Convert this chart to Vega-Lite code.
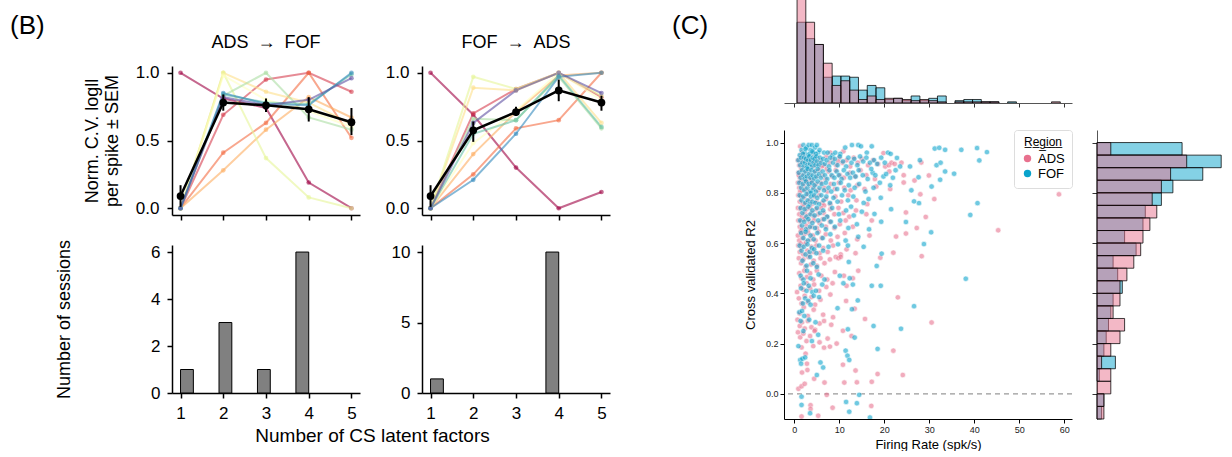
{
"$schema":"https://vega.github.io/schema/vega-lite/v6.json",
"autosize":{"type":"pad"},
"padding":{"left":10,"top":0,"right":0,"bottom":0},
"bounds":"flush",
"spacing":612,
"resolve":{"scale":{"color":"independent"},"legend":{"color":"independent"}},
"config":{
 "font":"Liberation Sans",
 "view":{"stroke":null},
 "axis":{"grid":false,"domainColor":"#000","tickColor":"#000","labelColor":"#000","titleColor":"#000","titleFontWeight":"normal","labelFont":"Liberation Sans","titleFont":"Liberation Sans"},
 "title":{"fontWeight":"normal","font":"Liberation Sans","color":"#000"},
 "legend":{"labelFont":"Liberation Sans","titleFont":"Liberation Sans"}
},
"datasets":{
 "linesAF":[
  {"s":"s1","k":1,"v":1.0},{"s":"s1","k":2,"v":0.81},{"s":"s1","k":3,"v":0.74},{"s":"s1","k":4,"v":0.19},{"s":"s1","k":5,"v":0.0},
  {"s":"s2","k":1,"v":0},{"s":"s2","k":2,"v":0.69},{"s":"s2","k":3,"v":0.95},{"s":"s2","k":4,"v":1.0},{"s":"s2","k":5,"v":0.86},
  {"s":"s3","k":1,"v":0},{"s":"s3","k":2,"v":0.41},{"s":"s3","k":3,"v":0.63},{"s":"s3","k":4,"v":1.0},{"s":"s3","k":5,"v":0.52},
  {"s":"s4","k":1,"v":0},{"s":"s4","k":2,"v":0.28},{"s":"s4","k":3,"v":0.58},{"s":"s4","k":4,"v":0.82},{"s":"s4","k":5,"v":0.67},
  {"s":"s5","k":1,"v":0},{"s":"s5","k":2,"v":1.0},{"s":"s5","k":3,"v":0.86},{"s":"s5","k":4,"v":0.78},{"s":"s5","k":5,"v":0.62},
  {"s":"s6","k":1,"v":0},{"s":"s6","k":2,"v":1.0},{"s":"s6","k":3,"v":0.37},{"s":"s6","k":4,"v":0.08},{"s":"s6","k":5,"v":0.0},
  {"s":"s7","k":1,"v":0},{"s":"s7","k":2,"v":0.98},{"s":"s7","k":3,"v":0.80},{"s":"s7","k":4,"v":0.72},{"s":"s7","k":5,"v":0.60},
  {"s":"s8","k":1,"v":0},{"s":"s8","k":2,"v":0.83},{"s":"s8","k":3,"v":1.0},{"s":"s8","k":4,"v":0.67},{"s":"s8","k":5,"v":0.58},
  {"s":"s9","k":1,"v":0},{"s":"s9","k":2,"v":0.84},{"s":"s9","k":3,"v":0.78},{"s":"s9","k":4,"v":0.77},{"s":"s9","k":5,"v":0.99},
  {"s":"s10","k":1,"v":0},{"s":"s10","k":2,"v":0.85},{"s":"s10","k":3,"v":0.77},{"s":"s10","k":4,"v":0.76},{"s":"s10","k":5,"v":1.0},
  {"s":"s11","k":1,"v":0},{"s":"s11","k":2,"v":0.82},{"s":"s11","k":3,"v":0.76},{"s":"s11","k":4,"v":0.80},{"s":"s11","k":5,"v":0.96}
 ],
 "linesFA":[
  {"s":"s1","k":1,"v":1.0},{"s":"s1","k":2,"v":0.69},{"s":"s1","k":3,"v":0.30},{"s":"s1","k":4,"v":0.0},{"s":"s1","k":5,"v":0.12},
  {"s":"s2","k":1,"v":0},{"s":"s2","k":2,"v":0.70},{"s":"s2","k":3,"v":0.88},{"s":"s2","k":4,"v":1.0},{"s":"s2","k":5,"v":0.82},
  {"s":"s3","k":1,"v":0},{"s":"s3","k":2,"v":0.25},{"s":"s3","k":3,"v":0.59},{"s":"s3","k":4,"v":0.65},{"s":"s3","k":5,"v":1.0},
  {"s":"s4","k":1,"v":0},{"s":"s4","k":2,"v":0.40},{"s":"s4","k":3,"v":0.71},{"s":"s4","k":4,"v":0.98},{"s":"s4","k":5,"v":1.0},
  {"s":"s5","k":1,"v":0},{"s":"s5","k":2,"v":0.89},{"s":"s5","k":3,"v":0.87},{"s":"s5","k":4,"v":1.0},{"s":"s5","k":5,"v":0.63},
  {"s":"s6","k":1,"v":0},{"s":"s6","k":2,"v":0.97},{"s":"s6","k":3,"v":0.88},{"s":"s6","k":4,"v":1.0},{"s":"s6","k":5,"v":0.83},
  {"s":"s7","k":1,"v":0},{"s":"s7","k":2,"v":0.48},{"s":"s7","k":3,"v":0.72},{"s":"s7","k":4,"v":1.0},{"s":"s7","k":5,"v":0.80},
  {"s":"s8","k":1,"v":0},{"s":"s8","k":2,"v":0.66},{"s":"s8","k":3,"v":0.65},{"s":"s8","k":4,"v":0.97},{"s":"s8","k":5,"v":0.59},
  {"s":"s9","k":1,"v":0},{"s":"s9","k":2,"v":0.55},{"s":"s9","k":3,"v":0.65},{"s":"s9","k":4,"v":0.98},{"s":"s9","k":5,"v":0.60},
  {"s":"s10","k":1,"v":0},{"s":"s10","k":2,"v":0.21},{"s":"s10","k":3,"v":0.55},{"s":"s10","k":4,"v":0.97},{"s":"s10","k":5,"v":1.0},
  {"s":"s11","k":1,"v":0},{"s":"s11","k":2,"v":0.63},{"s":"s11","k":3,"v":0.87},{"s":"s11","k":4,"v":1.0},{"s":"s11","k":5,"v":0.85}
 ],
 "meanAF":[
  {"k":1,"m":0.09,"lo":0.01,"hi":0.17},{"k":2,"m":0.78,"lo":0.72,"hi":0.84},{"k":3,"m":0.76,"lo":0.71,"hi":0.81},{"k":4,"m":0.73,"lo":0.64,"hi":0.82},{"k":5,"m":0.635,"lo":0.54,"hi":0.74}
 ],
 "meanFA":[
  {"k":1,"m":0.09,"lo":0.01,"hi":0.17},{"k":2,"m":0.575,"lo":0.49,"hi":0.64},{"k":3,"m":0.71,"lo":0.68,"hi":0.75},{"k":4,"m":0.87,"lo":0.79,"hi":0.95},{"k":5,"m":0.78,"lo":0.72,"hi":0.83}
 ],
 "countAF":[
  {"lo":1.0,"hi":1.3,"n":1},{"lo":1.9,"hi":2.2,"n":3},{"lo":2.8,"hi":3.1,"n":1},{"lo":3.7,"hi":4.0,"n":6}
 ],
 "countFA":[
  {"lo":1.0,"hi":1.3,"n":1},{"lo":3.7,"hi":4.0,"n":10}
 ],
 "topHist":[
  {"g":"ADS","lo":0.6,"hi":2.55,"n":95},{"g":"ADS","lo":2.55,"hi":4.5,"n":69},{"g":"ADS","lo":4.5,"hi":6.45,"n":50},{"g":"ADS","lo":6.45,"hi":8.4,"n":34},{"g":"ADS","lo":8.4,"hi":10.35,"n":15},{"g":"ADS","lo":10.35,"hi":12.3,"n":19},{"g":"ADS","lo":12.3,"hi":14.25,"n":11},{"g":"ADS","lo":14.25,"hi":16.2,"n":3},{"g":"ADS","lo":16.2,"hi":18.15,"n":6},{"g":"ADS","lo":18.15,"hi":20.1,"n":3},{"g":"ADS","lo":20.1,"hi":22.05,"n":4},{"g":"ADS","lo":22.05,"hi":24.0,"n":4},{"g":"ADS","lo":24.0,"hi":25.95,"n":3},{"g":"ADS","lo":25.95,"hi":27.9,"n":2},{"g":"ADS","lo":27.9,"hi":29.85,"n":3},{"g":"ADS","lo":29.85,"hi":31.8,"n":2},{"g":"ADS","lo":31.8,"hi":33.75,"n":1},{"g":"ADS","lo":35.7,"hi":37.65,"n":1},{"g":"ADS","lo":37.65,"hi":39.6,"n":1},{"g":"ADS","lo":39.6,"hi":41.55,"n":1},{"g":"ADS","lo":41.55,"hi":43.5,"n":1},{"g":"ADS","lo":43.5,"hi":45.45,"n":1},{"g":"ADS","lo":57.15,"hi":59.1,"n":1},
  {"g":"FOF","lo":0.6,"hi":2.55,"n":69},{"g":"FOF","lo":2.55,"hi":4.5,"n":55},{"g":"FOF","lo":4.5,"hi":6.45,"n":50},{"g":"FOF","lo":6.45,"hi":8.4,"n":22},{"g":"FOF","lo":8.4,"hi":10.35,"n":23},{"g":"FOF","lo":10.35,"hi":12.3,"n":23},{"g":"FOF","lo":12.3,"hi":14.25,"n":22},{"g":"FOF","lo":14.25,"hi":16.2,"n":11},{"g":"FOF","lo":16.2,"hi":18.15,"n":15},{"g":"FOF","lo":18.15,"hi":20.1,"n":13},{"g":"FOF","lo":20.1,"hi":22.05,"n":3},{"g":"FOF","lo":22.05,"hi":24.0,"n":4},{"g":"FOF","lo":24.0,"hi":25.95,"n":2},{"g":"FOF","lo":25.95,"hi":27.9,"n":6},{"g":"FOF","lo":27.9,"hi":29.85,"n":2},{"g":"FOF","lo":29.85,"hi":31.8,"n":4},{"g":"FOF","lo":31.8,"hi":33.75,"n":6},{"g":"FOF","lo":35.7,"hi":37.65,"n":2},{"g":"FOF","lo":37.65,"hi":39.6,"n":3},{"g":"FOF","lo":39.6,"hi":41.55,"n":3},{"g":"FOF","lo":41.55,"hi":43.5,"n":1},{"g":"FOF","lo":43.5,"hi":45.45,"n":1},{"g":"FOF","lo":47.4,"hi":49.35,"n":1}
 ],
 "rightHist":[
  {"g":"ADS","lo":0.95,"hi":1.0,"n":6},{"g":"ADS","lo":0.9,"hi":0.95,"n":39},{"g":"ADS","lo":0.85,"hi":0.9,"n":32},{"g":"ADS","lo":0.8,"hi":0.85,"n":28},{"g":"ADS","lo":0.75,"hi":0.8,"n":24},{"g":"ADS","lo":0.7,"hi":0.75,"n":26},{"g":"ADS","lo":0.65,"hi":0.7,"n":23},{"g":"ADS","lo":0.6,"hi":0.65,"n":20},{"g":"ADS","lo":0.55,"hi":0.6,"n":19},{"g":"ADS","lo":0.5,"hi":0.55,"n":16},{"g":"ADS","lo":0.45,"hi":0.5,"n":13},{"g":"ADS","lo":0.4,"hi":0.45,"n":10},{"g":"ADS","lo":0.35,"hi":0.4,"n":10},{"g":"ADS","lo":0.3,"hi":0.35,"n":7},{"g":"ADS","lo":0.25,"hi":0.3,"n":12},{"g":"ADS","lo":0.2,"hi":0.25,"n":10},{"g":"ADS","lo":0.15,"hi":0.2,"n":6},{"g":"ADS","lo":0.1,"hi":0.15,"n":2},{"g":"ADS","lo":0.05,"hi":0.1,"n":6},{"g":"ADS","lo":0.0,"hi":0.05,"n":6},{"g":"ADS","lo":-0.05,"hi":0.0,"n":3},{"g":"ADS","lo":-0.1,"hi":-0.05,"n":3},
  {"g":"FOF","lo":0.95,"hi":1.0,"n":37},{"g":"FOF","lo":0.9,"hi":0.95,"n":54},{"g":"FOF","lo":0.85,"hi":0.9,"n":46},{"g":"FOF","lo":0.8,"hi":0.85,"n":33},{"g":"FOF","lo":0.75,"hi":0.8,"n":28},{"g":"FOF","lo":0.7,"hi":0.75,"n":21},{"g":"FOF","lo":0.65,"hi":0.7,"n":20},{"g":"FOF","lo":0.6,"hi":0.65,"n":12},{"g":"FOF","lo":0.55,"hi":0.6,"n":17},{"g":"FOF","lo":0.5,"hi":0.55,"n":7},{"g":"FOF","lo":0.45,"hi":0.5,"n":9},{"g":"FOF","lo":0.4,"hi":0.45,"n":11},{"g":"FOF","lo":0.35,"hi":0.4,"n":7},{"g":"FOF","lo":0.3,"hi":0.35,"n":6},{"g":"FOF","lo":0.25,"hi":0.3,"n":5},{"g":"FOF","lo":0.2,"hi":0.25,"n":4},{"g":"FOF","lo":0.15,"hi":0.2,"n":3},{"g":"FOF","lo":0.1,"hi":0.15,"n":8},{"g":"FOF","lo":0.05,"hi":0.1,"n":1},{"g":"FOF","lo":-0.05,"hi":0.0,"n":3},{"g":"FOF","lo":-0.1,"hi":-0.05,"n":2}
 ],
 "scatter":[
  {"g":"ADS","fr":1.3,"r2":0.985},{"g":"ADS","fr":1.7,"r2":0.96},{"g":"ADS","fr":4.2,"r2":0.955},{"g":"ADS","fr":8.0,"r2":0.96},{"g":"ADS","fr":19.8,"r2":0.958},{"g":"ADS","fr":10.9,"r2":0.965},
  {"g":"ADS","fr":0.8,"r2":0.93},{"g":"ADS","fr":1.1,"r2":0.91},{"g":"ADS","fr":1.4,"r2":0.945},{"g":"ADS","fr":1.6,"r2":0.92},{"g":"ADS","fr":1.9,"r2":0.935},{"g":"ADS","fr":2.3,"r2":0.905},{"g":"ADS","fr":2.6,"r2":0.925},{"g":"ADS","fr":3.0,"r2":0.94},{"g":"ADS","fr":3.4,"r2":0.915},{"g":"ADS","fr":3.8,"r2":0.93},{"g":"ADS","fr":4.3,"r2":0.905},{"g":"ADS","fr":4.7,"r2":0.94},{"g":"ADS","fr":5.2,"r2":0.915},{"g":"ADS","fr":5.8,"r2":0.93},{"g":"ADS","fr":6.5,"r2":0.91},{"g":"ADS","fr":7.1,"r2":0.945},{"g":"ADS","fr":7.8,"r2":0.92},{"g":"ADS","fr":8.5,"r2":0.935},{"g":"ADS","fr":9.3,"r2":0.91},{"g":"ADS","fr":10.0,"r2":0.94},{"g":"ADS","fr":10.7,"r2":0.92},{"g":"ADS","fr":11.6,"r2":0.93},{"g":"ADS","fr":12.4,"r2":0.905},{"g":"ADS","fr":13.2,"r2":0.94},{"g":"ADS","fr":14.1,"r2":0.92},{"g":"ADS","fr":15.0,"r2":0.935},{"g":"ADS","fr":16.4,"r2":0.91},{"g":"ADS","fr":17.5,"r2":0.93},{"g":"ADS","fr":18.6,"r2":0.915},{"g":"ADS","fr":20.2,"r2":0.905},{"g":"ADS","fr":21.0,"r2":0.91},{"g":"ADS","fr":21.6,"r2":0.92},{"g":"ADS","fr":22.3,"r2":0.915},{"g":"ADS","fr":23.8,"r2":0.92},{"g":"ADS","fr":28.2,"r2":0.921},{"g":"ADS","fr":2.1,"r2":0.95},{"g":"ADS","fr":4.5,"r2":0.925},{"g":"ADS","fr":6.1,"r2":0.905},{"g":"ADS","fr":9.7,"r2":0.925},
  {"g":"ADS","fr":0.9,"r2":0.88},{"g":"ADS","fr":1.2,"r2":0.86},{"g":"ADS","fr":1.5,"r2":0.895},{"g":"ADS","fr":1.8,"r2":0.87},{"g":"ADS","fr":2.1,"r2":0.855},{"g":"ADS","fr":2.4,"r2":0.885},{"g":"ADS","fr":2.8,"r2":0.865},{"g":"ADS","fr":3.2,"r2":0.89},{"g":"ADS","fr":3.6,"r2":0.87},{"g":"ADS","fr":4.0,"r2":0.855},{"g":"ADS","fr":4.5,"r2":0.885},{"g":"ADS","fr":5.0,"r2":0.865},{"g":"ADS","fr":5.5,"r2":0.89},{"g":"ADS","fr":6.2,"r2":0.87},{"g":"ADS","fr":6.9,"r2":0.855},{"g":"ADS","fr":7.6,"r2":0.885},{"g":"ADS","fr":8.4,"r2":0.865},{"g":"ADS","fr":9.2,"r2":0.89},{"g":"ADS","fr":10.1,"r2":0.87},{"g":"ADS","fr":11.0,"r2":0.86},{"g":"ADS","fr":12.3,"r2":0.88},{"g":"ADS","fr":13.5,"r2":0.865},{"g":"ADS","fr":14.7,"r2":0.89},{"g":"ADS","fr":16.0,"r2":0.87},{"g":"ADS","fr":17.9,"r2":0.855},{"g":"ADS","fr":21.1,"r2":0.885},{"g":"ADS","fr":24.3,"r2":0.87},{"g":"ADS","fr":26.7,"r2":0.849},{"g":"ADS","fr":29.9,"r2":0.869},{"g":"ADS","fr":3.4,"r2":0.852},{"g":"ADS","fr":1.0,"r2":0.87},{"g":"ADS","fr":7.2,"r2":0.895},
  {"g":"ADS","fr":0.8,"r2":0.84},{"g":"ADS","fr":1.1,"r2":0.82},{"g":"ADS","fr":1.4,"r2":0.845},{"g":"ADS","fr":1.7,"r2":0.81},{"g":"ADS","fr":2.0,"r2":0.83},{"g":"ADS","fr":2.4,"r2":0.815},{"g":"ADS","fr":2.8,"r2":0.84},{"g":"ADS","fr":3.1,"r2":0.805},{"g":"ADS","fr":3.5,"r2":0.83},{"g":"ADS","fr":3.9,"r2":0.845},{"g":"ADS","fr":4.3,"r2":0.82},{"g":"ADS","fr":4.8,"r2":0.835},{"g":"ADS","fr":5.3,"r2":0.81},{"g":"ADS","fr":5.9,"r2":0.84},{"g":"ADS","fr":6.6,"r2":0.82},{"g":"ADS","fr":7.3,"r2":0.805},{"g":"ADS","fr":8.1,"r2":0.835},{"g":"ADS","fr":9.0,"r2":0.815},{"g":"ADS","fr":9.9,"r2":0.84},{"g":"ADS","fr":11.1,"r2":0.82},{"g":"ADS","fr":12.5,"r2":0.81},{"g":"ADS","fr":14.0,"r2":0.83},{"g":"ADS","fr":15.6,"r2":0.815},{"g":"ADS","fr":18.2,"r2":0.825},{"g":"ADS","fr":21.3,"r2":0.815},{"g":"ADS","fr":24.3,"r2":0.841},{"g":"ADS","fr":1.3,"r2":0.805},{"g":"ADS","fr":2.6,"r2":0.848},
  {"g":"ADS","fr":0.9,"r2":0.79},{"g":"ADS","fr":1.2,"r2":0.765},{"g":"ADS","fr":1.5,"r2":0.785},{"g":"ADS","fr":1.9,"r2":0.755},{"g":"ADS","fr":2.2,"r2":0.78},{"g":"ADS","fr":2.6,"r2":0.76},{"g":"ADS","fr":3.0,"r2":0.795},{"g":"ADS","fr":3.4,"r2":0.77},{"g":"ADS","fr":3.9,"r2":0.755},{"g":"ADS","fr":4.4,"r2":0.785},{"g":"ADS","fr":4.9,"r2":0.765},{"g":"ADS","fr":5.5,"r2":0.79},{"g":"ADS","fr":6.2,"r2":0.76},{"g":"ADS","fr":7.0,"r2":0.775},{"g":"ADS","fr":8.0,"r2":0.755},{"g":"ADS","fr":9.1,"r2":0.785},{"g":"ADS","fr":10.4,"r2":0.765},{"g":"ADS","fr":12.0,"r2":0.79},{"g":"ADS","fr":13.8,"r2":0.77},{"g":"ADS","fr":16.2,"r2":0.755},{"g":"ADS","fr":28.0,"r2":0.794},{"g":"ADS","fr":31.1,"r2":0.775},{"g":"ADS","fr":58.8,"r2":0.794},{"g":"ADS","fr":6.6,"r2":0.75},
  {"g":"ADS","fr":0.8,"r2":0.74},{"g":"ADS","fr":1.1,"r2":0.715},{"g":"ADS","fr":1.4,"r2":0.735},{"g":"ADS","fr":1.7,"r2":0.705},{"g":"ADS","fr":2.0,"r2":0.745},{"g":"ADS","fr":2.3,"r2":0.72},{"g":"ADS","fr":2.7,"r2":0.735},{"g":"ADS","fr":3.1,"r2":0.71},{"g":"ADS","fr":3.5,"r2":0.74},{"g":"ADS","fr":3.9,"r2":0.72},{"g":"ADS","fr":4.3,"r2":0.705},{"g":"ADS","fr":4.8,"r2":0.735},{"g":"ADS","fr":5.3,"r2":0.715},{"g":"ADS","fr":5.9,"r2":0.74},{"g":"ADS","fr":6.5,"r2":0.72},{"g":"ADS","fr":7.2,"r2":0.705},{"g":"ADS","fr":8.0,"r2":0.735},{"g":"ADS","fr":8.9,"r2":0.715},{"g":"ADS","fr":9.8,"r2":0.74},{"g":"ADS","fr":10.9,"r2":0.72},{"g":"ADS","fr":12.2,"r2":0.705},{"g":"ADS","fr":13.7,"r2":0.73},{"g":"ADS","fr":16.0,"r2":0.715},{"g":"ADS","fr":24.8,"r2":0.722},{"g":"ADS","fr":29.2,"r2":0.704},{"g":"ADS","fr":2.5,"r2":0.7},
  {"g":"ADS","fr":0.9,"r2":0.69},{"g":"ADS","fr":1.2,"r2":0.665},{"g":"ADS","fr":1.5,"r2":0.685},{"g":"ADS","fr":1.8,"r2":0.655},{"g":"ADS","fr":2.2,"r2":0.695},{"g":"ADS","fr":2.6,"r2":0.67},{"g":"ADS","fr":3.0,"r2":0.655},{"g":"ADS","fr":3.4,"r2":0.685},{"g":"ADS","fr":3.9,"r2":0.665},{"g":"ADS","fr":4.4,"r2":0.69},{"g":"ADS","fr":5.0,"r2":0.66},{"g":"ADS","fr":5.6,"r2":0.68},{"g":"ADS","fr":6.3,"r2":0.695},{"g":"ADS","fr":7.0,"r2":0.665},{"g":"ADS","fr":7.9,"r2":0.685},{"g":"ADS","fr":8.9,"r2":0.66},{"g":"ADS","fr":10.1,"r2":0.675},{"g":"ADS","fr":11.4,"r2":0.69},{"g":"ADS","fr":13.0,"r2":0.665},{"g":"ADS","fr":17.2,"r2":0.69},{"g":"ADS","fr":27.2,"r2":0.66},{"g":"ADS","fr":45.3,"r2":0.651},{"g":"ADS","fr":1.6,"r2":0.652},
  {"g":"ADS","fr":0.8,"r2":0.63},{"g":"ADS","fr":1.1,"r2":0.61},{"g":"ADS","fr":1.4,"r2":0.645},{"g":"ADS","fr":1.8,"r2":0.62},{"g":"ADS","fr":2.2,"r2":0.635},{"g":"ADS","fr":2.6,"r2":0.605},{"g":"ADS","fr":3.1,"r2":0.64},{"g":"ADS","fr":3.6,"r2":0.615},{"g":"ADS","fr":4.1,"r2":0.63},{"g":"ADS","fr":4.7,"r2":0.61},{"g":"ADS","fr":5.4,"r2":0.645},{"g":"ADS","fr":6.1,"r2":0.62},{"g":"ADS","fr":7.0,"r2":0.635},{"g":"ADS","fr":8.1,"r2":0.61},{"g":"ADS","fr":9.6,"r2":0.625},{"g":"ADS","fr":11.2,"r2":0.64},{"g":"ADS","fr":14.0,"r2":0.615},{"g":"ADS","fr":16.7,"r2":0.63},{"g":"ADS","fr":22.6,"r2":0.626},{"g":"ADS","fr":24.8,"r2":0.638},
  {"g":"ADS","fr":0.9,"r2":0.59},{"g":"ADS","fr":1.2,"r2":0.565},{"g":"ADS","fr":1.6,"r2":0.58},{"g":"ADS","fr":2.0,"r2":0.555},{"g":"ADS","fr":2.4,"r2":0.595},{"g":"ADS","fr":2.9,"r2":0.57},{"g":"ADS","fr":3.3,"r2":0.555},{"g":"ADS","fr":3.8,"r2":0.585},{"g":"ADS","fr":4.3,"r2":0.565},{"g":"ADS","fr":4.9,"r2":0.59},{"g":"ADS","fr":5.6,"r2":0.56},{"g":"ADS","fr":6.4,"r2":0.58},{"g":"ADS","fr":7.4,"r2":0.565},{"g":"ADS","fr":8.6,"r2":0.59},{"g":"ADS","fr":10.3,"r2":0.555},{"g":"ADS","fr":11.6,"r2":0.575},{"g":"ADS","fr":13.6,"r2":0.56},{"g":"ADS","fr":22.0,"r2":0.562},{"g":"ADS","fr":1.4,"r2":0.598},
  {"g":"ADS","fr":1.0,"r2":0.54},{"g":"ADS","fr":1.5,"r2":0.52},{"g":"ADS","fr":2.0,"r2":0.535},{"g":"ADS","fr":2.5,"r2":0.505},{"g":"ADS","fr":3.1,"r2":0.545},{"g":"ADS","fr":3.7,"r2":0.515},{"g":"ADS","fr":4.3,"r2":0.53},{"g":"ADS","fr":5.0,"r2":0.51},{"g":"ADS","fr":5.8,"r2":0.54},{"g":"ADS","fr":6.7,"r2":0.52},{"g":"ADS","fr":7.9,"r2":0.535},{"g":"ADS","fr":9.2,"r2":0.545},{"g":"ADS","fr":9.8,"r2":0.54},{"g":"ADS","fr":10.3,"r2":0.545},{"g":"ADS","fr":19.1,"r2":0.542},{"g":"ADS","fr":28.3,"r2":0.548},
  {"g":"ADS","fr":1.1,"r2":0.48},{"g":"ADS","fr":1.6,"r2":0.46},{"g":"ADS","fr":2.2,"r2":0.49},{"g":"ADS","fr":2.8,"r2":0.465},{"g":"ADS","fr":3.5,"r2":0.48},{"g":"ADS","fr":4.2,"r2":0.455},{"g":"ADS","fr":5.0,"r2":0.49},{"g":"ADS","fr":6.0,"r2":0.47},{"g":"ADS","fr":7.3,"r2":0.455},{"g":"ADS","fr":9.0,"r2":0.485},{"g":"ADS","fr":11.0,"r2":0.47},{"g":"ADS","fr":13.0,"r2":0.46},{"g":"ADS","fr":14.2,"r2":0.49},
  {"g":"ADS","fr":0.6,"r2":0.405},{"g":"ADS","fr":1.4,"r2":0.43},{"g":"ADS","fr":2.0,"r2":0.415},{"g":"ADS","fr":2.7,"r2":0.44},{"g":"ADS","fr":3.5,"r2":0.42},{"g":"ADS","fr":4.4,"r2":0.435},{"g":"ADS","fr":5.5,"r2":0.41},{"g":"ADS","fr":7.1,"r2":0.425},{"g":"ADS","fr":8.5,"r2":0.44},{"g":"ADS","fr":11.6,"r2":0.43},
  {"g":"ADS","fr":1.0,"r2":0.38},{"g":"ADS","fr":1.6,"r2":0.36},{"g":"ADS","fr":2.3,"r2":0.39},{"g":"ADS","fr":3.0,"r2":0.365},{"g":"ADS","fr":3.8,"r2":0.385},{"g":"ADS","fr":4.6,"r2":0.355},{"g":"ADS","fr":5.8,"r2":0.375},{"g":"ADS","fr":8.0,"r2":0.395},{"g":"ADS","fr":11.5,"r2":0.37},{"g":"ADS","fr":23.0,"r2":0.384},
  {"g":"ADS","fr":1.2,"r2":0.32},{"g":"ADS","fr":2.1,"r2":0.345},{"g":"ADS","fr":3.0,"r2":0.31},{"g":"ADS","fr":4.3,"r2":0.335},{"g":"ADS","fr":6.4,"r2":0.315},{"g":"ADS","fr":13.4,"r2":0.339},{"g":"ADS","fr":8.6,"r2":0.305},
  {"g":"ADS","fr":0.7,"r2":0.295},{"g":"ADS","fr":1.2,"r2":0.27},{"g":"ADS","fr":1.7,"r2":0.285},{"g":"ADS","fr":2.3,"r2":0.26},{"g":"ADS","fr":3.0,"r2":0.29},{"g":"ADS","fr":3.8,"r2":0.265},{"g":"ADS","fr":4.6,"r2":0.255},{"g":"ADS","fr":5.6,"r2":0.28},{"g":"ADS","fr":6.6,"r2":0.29},{"g":"ADS","fr":8.2,"r2":0.275},{"g":"ADS","fr":15.7,"r2":0.298},{"g":"ADS","fr":30.5,"r2":0.284},
  {"g":"ADS","fr":0.8,"r2":0.245},{"g":"ADS","fr":1.3,"r2":0.225},{"g":"ADS","fr":2.0,"r2":0.24},{"g":"ADS","fr":2.7,"r2":0.21},{"g":"ADS","fr":3.5,"r2":0.23},{"g":"ADS","fr":4.5,"r2":0.25},{"g":"ADS","fr":5.6,"r2":0.205},{"g":"ADS","fr":7.4,"r2":0.22},{"g":"ADS","fr":10.8,"r2":0.251},{"g":"ADS","fr":12.7,"r2":0.23},
  {"g":"ADS","fr":1.6,"r2":0.185},{"g":"ADS","fr":2.5,"r2":0.16},{"g":"ADS","fr":4.2,"r2":0.19},{"g":"ADS","fr":6.6,"r2":0.184},{"g":"ADS","fr":7.9,"r2":0.188},{"g":"ADS","fr":9.4,"r2":0.2},{"g":"ADS","fr":22.0,"r2":0.172},
  {"g":"ADS","fr":2.8,"r2":0.12},{"g":"ADS","fr":10.8,"r2":0.116},
  {"g":"ADS","fr":1.7,"r2":0.085},{"g":"ADS","fr":2.9,"r2":0.095},{"g":"ADS","fr":4.4,"r2":0.06},{"g":"ADS","fr":13.6,"r2":0.093},{"g":"ADS","fr":18.5,"r2":0.079},{"g":"ADS","fr":24.1,"r2":0.075},
  {"g":"ADS","fr":0.9,"r2":0.02},{"g":"ADS","fr":1.6,"r2":0.03},{"g":"ADS","fr":2.3,"r2":0.04},{"g":"ADS","fr":6.7,"r2":0.045},{"g":"ADS","fr":11.1,"r2":0.045},{"g":"ADS","fr":13.9,"r2":0.046},{"g":"ADS","fr":17.2,"r2":0.048},
  {"g":"ADS","fr":7.2,"r2":-0.004},{"g":"ADS","fr":3.6,"r2":-0.045},{"g":"ADS","fr":17.1,"r2":-0.048},{"g":"ADS","fr":5.3,"r2":-0.087},{"g":"ADS","fr":8.5,"r2":-0.055},{"g":"ADS","fr":1.6,"r2":-0.09},{"g":"ADS","fr":3.6,"r2":-0.06},
  {"g":"FOF","fr":1.2,"r2":0.95},{"g":"FOF","fr":1.6,"r2":0.97},{"g":"FOF","fr":2.0,"r2":0.99},{"g":"FOF","fr":2.3,"r2":0.96},{"g":"FOF","fr":2.7,"r2":0.98},{"g":"FOF","fr":3.0,"r2":0.95},{"g":"FOF","fr":3.2,"r2":0.99},{"g":"FOF","fr":3.6,"r2":0.97},{"g":"FOF","fr":3.9,"r2":0.99},{"g":"FOF","fr":4.2,"r2":0.96},{"g":"FOF","fr":4.6,"r2":0.98},{"g":"FOF","fr":5.0,"r2":0.99},{"g":"FOF","fr":5.3,"r2":0.96},{"g":"FOF","fr":1.9,"r2":0.955},{"g":"FOF","fr":2.5,"r2":0.975},{"g":"FOF","fr":3.4,"r2":0.955},{"g":"FOF","fr":4.0,"r2":0.965},{"g":"FOF","fr":4.8,"r2":0.955},{"g":"FOF","fr":5.6,"r2":0.97},{"g":"FOF","fr":6.6,"r2":0.96},{"g":"FOF","fr":7.4,"r2":0.96},{"g":"FOF","fr":8.5,"r2":0.95},{"g":"FOF","fr":9.1,"r2":0.96},{"g":"FOF","fr":10.2,"r2":0.955},{"g":"FOF","fr":11.3,"r2":0.98},{"g":"FOF","fr":12.8,"r2":0.99},{"g":"FOF","fr":14.2,"r2":0.99},{"g":"FOF","fr":14.8,"r2":0.985},{"g":"FOF","fr":16.1,"r2":0.96},{"g":"FOF","fr":17.2,"r2":0.985},{"g":"FOF","fr":20.8,"r2":0.96},{"g":"FOF","fr":21.4,"r2":0.955},{"g":"FOF","fr":31.2,"r2":0.976},{"g":"FOF","fr":32.2,"r2":0.979},{"g":"FOF","fr":33.5,"r2":0.971},{"g":"FOF","fr":37.1,"r2":0.971},{"g":"FOF","fr":40.6,"r2":0.978},{"g":"FOF","fr":42.8,"r2":0.962},
  {"g":"FOF","fr":0.9,"r2":0.93},{"g":"FOF","fr":1.3,"r2":0.91},{"g":"FOF","fr":1.5,"r2":0.94},{"g":"FOF","fr":1.8,"r2":0.92},{"g":"FOF","fr":2.1,"r2":0.905},{"g":"FOF","fr":2.2,"r2":0.94},{"g":"FOF","fr":2.4,"r2":0.92},{"g":"FOF","fr":2.6,"r2":0.935},{"g":"FOF","fr":2.9,"r2":0.91},{"g":"FOF","fr":3.1,"r2":0.93},{"g":"FOF","fr":3.3,"r2":0.945},{"g":"FOF","fr":3.5,"r2":0.915},{"g":"FOF","fr":3.7,"r2":0.93},{"g":"FOF","fr":3.9,"r2":0.905},{"g":"FOF","fr":4.1,"r2":0.94},{"g":"FOF","fr":4.3,"r2":0.92},{"g":"FOF","fr":4.5,"r2":0.935},{"g":"FOF","fr":4.7,"r2":0.91},{"g":"FOF","fr":4.9,"r2":0.945},{"g":"FOF","fr":5.1,"r2":0.925},{"g":"FOF","fr":5.4,"r2":0.91},{"g":"FOF","fr":5.7,"r2":0.94},{"g":"FOF","fr":6.0,"r2":0.92},{"g":"FOF","fr":6.4,"r2":0.935},{"g":"FOF","fr":6.8,"r2":0.915},{"g":"FOF","fr":7.2,"r2":0.93},{"g":"FOF","fr":7.7,"r2":0.905},{"g":"FOF","fr":8.0,"r2":0.94},{"g":"FOF","fr":8.6,"r2":0.92},{"g":"FOF","fr":9.0,"r2":0.935},{"g":"FOF","fr":9.6,"r2":0.91},{"g":"FOF","fr":10.1,"r2":0.945},{"g":"FOF","fr":10.8,"r2":0.925},{"g":"FOF","fr":11.5,"r2":0.905},{"g":"FOF","fr":12.0,"r2":0.94},{"g":"FOF","fr":12.7,"r2":0.92},{"g":"FOF","fr":13.3,"r2":0.935},{"g":"FOF","fr":14.0,"r2":0.91},{"g":"FOF","fr":14.6,"r2":0.945},{"g":"FOF","fr":15.3,"r2":0.925},{"g":"FOF","fr":16.0,"r2":0.94},{"g":"FOF","fr":16.8,"r2":0.92},{"g":"FOF","fr":17.7,"r2":0.93},{"g":"FOF","fr":18.4,"r2":0.915},{"g":"FOF","fr":19.3,"r2":0.94},{"g":"FOF","fr":20.1,"r2":0.92},{"g":"FOF","fr":22.8,"r2":0.939},{"g":"FOF","fr":23.5,"r2":0.905},{"g":"FOF","fr":25.7,"r2":0.905},{"g":"FOF","fr":27.9,"r2":0.93},{"g":"FOF","fr":31.6,"r2":0.91},{"g":"FOF","fr":32.5,"r2":0.92},{"g":"FOF","fr":41.1,"r2":0.929},{"g":"FOF","fr":2.8,"r2":0.9},
  {"g":"FOF","fr":1.0,"r2":0.88},{"g":"FOF","fr":1.4,"r2":0.86},{"g":"FOF","fr":1.7,"r2":0.89},{"g":"FOF","fr":2.0,"r2":0.87},{"g":"FOF","fr":2.3,"r2":0.855},{"g":"FOF","fr":2.5,"r2":0.885},{"g":"FOF","fr":2.8,"r2":0.865},{"g":"FOF","fr":3.0,"r2":0.895},{"g":"FOF","fr":3.3,"r2":0.875},{"g":"FOF","fr":3.6,"r2":0.86},{"g":"FOF","fr":3.8,"r2":0.89},{"g":"FOF","fr":4.1,"r2":0.87},{"g":"FOF","fr":4.4,"r2":0.855},{"g":"FOF","fr":4.6,"r2":0.885},{"g":"FOF","fr":4.9,"r2":0.865},{"g":"FOF","fr":5.2,"r2":0.895},{"g":"FOF","fr":5.5,"r2":0.875},{"g":"FOF","fr":5.9,"r2":0.86},{"g":"FOF","fr":6.3,"r2":0.885},{"g":"FOF","fr":6.8,"r2":0.87},{"g":"FOF","fr":7.3,"r2":0.855},{"g":"FOF","fr":7.8,"r2":0.89},{"g":"FOF","fr":8.3,"r2":0.87},{"g":"FOF","fr":8.9,"r2":0.86},{"g":"FOF","fr":9.4,"r2":0.885},{"g":"FOF","fr":9.9,"r2":0.87},{"g":"FOF","fr":10.5,"r2":0.855},{"g":"FOF","fr":11.0,"r2":0.89},{"g":"FOF","fr":11.8,"r2":0.875},{"g":"FOF","fr":12.4,"r2":0.86},{"g":"FOF","fr":13.0,"r2":0.88},{"g":"FOF","fr":13.6,"r2":0.865},{"g":"FOF","fr":14.3,"r2":0.89},{"g":"FOF","fr":15.2,"r2":0.87},{"g":"FOF","fr":16.3,"r2":0.855},{"g":"FOF","fr":17.4,"r2":0.88},{"g":"FOF","fr":18.0,"r2":0.87},{"g":"FOF","fr":19.8,"r2":0.865},{"g":"FOF","fr":20.4,"r2":0.875},{"g":"FOF","fr":21.9,"r2":0.86},{"g":"FOF","fr":22.5,"r2":0.89},{"g":"FOF","fr":27.6,"r2":0.862},{"g":"FOF","fr":32.4,"r2":0.852},{"g":"FOF","fr":33.5,"r2":0.885},{"g":"FOF","fr":35.5,"r2":0.876},{"g":"FOF","fr":17.1,"r2":0.895},
  {"g":"FOF","fr":1.1,"r2":0.84},{"g":"FOF","fr":1.5,"r2":0.82},{"g":"FOF","fr":1.9,"r2":0.835},{"g":"FOF","fr":2.2,"r2":0.81},{"g":"FOF","fr":2.6,"r2":0.845},{"g":"FOF","fr":2.9,"r2":0.82},{"g":"FOF","fr":3.2,"r2":0.835},{"g":"FOF","fr":3.5,"r2":0.805},{"g":"FOF","fr":3.9,"r2":0.84},{"g":"FOF","fr":4.2,"r2":0.815},{"g":"FOF","fr":4.5,"r2":0.83},{"g":"FOF","fr":4.8,"r2":0.805},{"g":"FOF","fr":5.2,"r2":0.845},{"g":"FOF","fr":5.6,"r2":0.82},{"g":"FOF","fr":6.1,"r2":0.835},{"g":"FOF","fr":6.6,"r2":0.81},{"g":"FOF","fr":7.0,"r2":0.84},{"g":"FOF","fr":7.6,"r2":0.82},{"g":"FOF","fr":8.2,"r2":0.805},{"g":"FOF","fr":8.8,"r2":0.835},{"g":"FOF","fr":9.5,"r2":0.815},{"g":"FOF","fr":10.3,"r2":0.84},{"g":"FOF","fr":11.2,"r2":0.81},{"g":"FOF","fr":12.1,"r2":0.83},{"g":"FOF","fr":13.4,"r2":0.82},{"g":"FOF","fr":14.4,"r2":0.835},{"g":"FOF","fr":15.8,"r2":0.805},{"g":"FOF","fr":17.6,"r2":0.82},{"g":"FOF","fr":19.0,"r2":0.84},{"g":"FOF","fr":21.3,"r2":0.83},{"g":"FOF","fr":26.0,"r2":0.81},{"g":"FOF","fr":30.5,"r2":0.825},{"g":"FOF","fr":3.7,"r2":0.8},
  {"g":"FOF","fr":1.2,"r2":0.79},{"g":"FOF","fr":1.6,"r2":0.77},{"g":"FOF","fr":2.0,"r2":0.785},{"g":"FOF","fr":2.4,"r2":0.76},{"g":"FOF","fr":2.7,"r2":0.795},{"g":"FOF","fr":3.0,"r2":0.77},{"g":"FOF","fr":3.4,"r2":0.755},{"g":"FOF","fr":3.7,"r2":0.785},{"g":"FOF","fr":4.0,"r2":0.765},{"g":"FOF","fr":4.4,"r2":0.79},{"g":"FOF","fr":4.7,"r2":0.76},{"g":"FOF","fr":5.1,"r2":0.78},{"g":"FOF","fr":5.5,"r2":0.755},{"g":"FOF","fr":6.0,"r2":0.79},{"g":"FOF","fr":6.5,"r2":0.77},{"g":"FOF","fr":7.1,"r2":0.785},{"g":"FOF","fr":7.9,"r2":0.76},{"g":"FOF","fr":8.7,"r2":0.78},{"g":"FOF","fr":9.6,"r2":0.765},{"g":"FOF","fr":10.6,"r2":0.79},{"g":"FOF","fr":11.9,"r2":0.77},{"g":"FOF","fr":13.1,"r2":0.785},{"g":"FOF","fr":15.4,"r2":0.76},{"g":"FOF","fr":16.5,"r2":0.775},{"g":"FOF","fr":19.2,"r2":0.78},{"g":"FOF","fr":26.6,"r2":0.766},{"g":"FOF","fr":27.7,"r2":0.759},{"g":"FOF","fr":40.7,"r2":0.759},
  {"g":"FOF","fr":1.4,"r2":0.74},{"g":"FOF","fr":1.8,"r2":0.72},{"g":"FOF","fr":2.3,"r2":0.735},{"g":"FOF","fr":2.7,"r2":0.705},{"g":"FOF","fr":3.1,"r2":0.745},{"g":"FOF","fr":3.6,"r2":0.715},{"g":"FOF","fr":4.0,"r2":0.73},{"g":"FOF","fr":4.5,"r2":0.71},{"g":"FOF","fr":5.0,"r2":0.74},{"g":"FOF","fr":5.7,"r2":0.72},{"g":"FOF","fr":6.4,"r2":0.73},{"g":"FOF","fr":7.3,"r2":0.705},{"g":"FOF","fr":8.4,"r2":0.74},{"g":"FOF","fr":9.9,"r2":0.715},{"g":"FOF","fr":11.5,"r2":0.73},{"g":"FOF","fr":13.2,"r2":0.71},{"g":"FOF","fr":15.0,"r2":0.725},{"g":"FOF","fr":17.8,"r2":0.716},{"g":"FOF","fr":21.5,"r2":0.735},{"g":"FOF","fr":39.1,"r2":0.712},{"g":"FOF","fr":12.6,"r2":0.745},
  {"g":"FOF","fr":1.3,"r2":0.69},{"g":"FOF","fr":1.7,"r2":0.67},{"g":"FOF","fr":2.2,"r2":0.685},{"g":"FOF","fr":2.6,"r2":0.655},{"g":"FOF","fr":3.1,"r2":0.695},{"g":"FOF","fr":3.5,"r2":0.665},{"g":"FOF","fr":4.0,"r2":0.68},{"g":"FOF","fr":4.6,"r2":0.66},{"g":"FOF","fr":5.3,"r2":0.69},{"g":"FOF","fr":6.1,"r2":0.67},{"g":"FOF","fr":7.0,"r2":0.655},{"g":"FOF","fr":8.1,"r2":0.685},{"g":"FOF","fr":9.0,"r2":0.665},{"g":"FOF","fr":10.2,"r2":0.69},{"g":"FOF","fr":12.0,"r2":0.66},{"g":"FOF","fr":13.9,"r2":0.675},{"g":"FOF","fr":16.6,"r2":0.655},{"g":"FOF","fr":19.3,"r2":0.685},{"g":"FOF","fr":24.8,"r2":0.684},{"g":"FOF","fr":6.6,"r2":0.695},
  {"g":"FOF","fr":1.5,"r2":0.64},{"g":"FOF","fr":2.0,"r2":0.62},{"g":"FOF","fr":2.5,"r2":0.645},{"g":"FOF","fr":3.0,"r2":0.61},{"g":"FOF","fr":3.6,"r2":0.63},{"g":"FOF","fr":4.3,"r2":0.615},{"g":"FOF","fr":5.1,"r2":0.64},{"g":"FOF","fr":6.3,"r2":0.62},{"g":"FOF","fr":8.0,"r2":0.635},{"g":"FOF","fr":11.4,"r2":0.61},{"g":"FOF","fr":14.2,"r2":0.625},{"g":"FOF","fr":30.4,"r2":0.643},
  {"g":"FOF","fr":1.2,"r2":0.59},{"g":"FOF","fr":1.6,"r2":0.57},{"g":"FOF","fr":2.1,"r2":0.585},{"g":"FOF","fr":2.5,"r2":0.555},{"g":"FOF","fr":2.9,"r2":0.595},{"g":"FOF","fr":3.4,"r2":0.565},{"g":"FOF","fr":3.9,"r2":0.58},{"g":"FOF","fr":4.4,"r2":0.575},{"g":"FOF","fr":4.9,"r2":0.56},{"g":"FOF","fr":5.5,"r2":0.59},{"g":"FOF","fr":6.4,"r2":0.57},{"g":"FOF","fr":7.6,"r2":0.585},{"g":"FOF","fr":9.7,"r2":0.595},{"g":"FOF","fr":11.9,"r2":0.59},{"g":"FOF","fr":15.4,"r2":0.585},{"g":"FOF","fr":19.4,"r2":0.558},{"g":"FOF","fr":28.8,"r2":0.596},
  {"g":"FOF","fr":1.8,"r2":0.53},{"g":"FOF","fr":2.7,"r2":0.51},{"g":"FOF","fr":3.5,"r2":0.545},{"g":"FOF","fr":4.2,"r2":0.52},{"g":"FOF","fr":5.0,"r2":0.505},{"g":"FOF","fr":12.1,"r2":0.525},{"g":"FOF","fr":18.3,"r2":0.509},
  {"g":"FOF","fr":1.4,"r2":0.47},{"g":"FOF","fr":2.0,"r2":0.455},{"g":"FOF","fr":2.8,"r2":0.49},{"g":"FOF","fr":3.6,"r2":0.46},{"g":"FOF","fr":5.4,"r2":0.475},{"g":"FOF","fr":6.7,"r2":0.455},{"g":"FOF","fr":10.1,"r2":0.47},{"g":"FOF","fr":12.3,"r2":0.46},{"g":"FOF","fr":38.1,"r2":0.458},
  {"g":"FOF","fr":1.5,"r2":0.42},{"g":"FOF","fr":2.1,"r2":0.44},{"g":"FOF","fr":2.7,"r2":0.41},{"g":"FOF","fr":3.2,"r2":0.43},{"g":"FOF","fr":4.0,"r2":0.405},{"g":"FOF","fr":4.8,"r2":0.41},{"g":"FOF","fr":6.2,"r2":0.435},{"g":"FOF","fr":10.9,"r2":0.44},{"g":"FOF","fr":13.0,"r2":0.435},{"g":"FOF","fr":17.2,"r2":0.43},{"g":"FOF","fr":19.2,"r2":0.43},
  {"g":"FOF","fr":1.9,"r2":0.36},{"g":"FOF","fr":2.4,"r2":0.38},{"g":"FOF","fr":3.1,"r2":0.37},{"g":"FOF","fr":3.6,"r2":0.355},{"g":"FOF","fr":4.3,"r2":0.39},{"g":"FOF","fr":14.1,"r2":0.372},{"g":"FOF","fr":5.5,"r2":0.385},
  {"g":"FOF","fr":1.1,"r2":0.325},{"g":"FOF","fr":1.7,"r2":0.33},{"g":"FOF","fr":2.2,"r2":0.31},{"g":"FOF","fr":9.6,"r2":0.341},{"g":"FOF","fr":12.8,"r2":0.337},{"g":"FOF","fr":26.6,"r2":0.349},
  {"g":"FOF","fr":1.4,"r2":0.29},{"g":"FOF","fr":3.3,"r2":0.295},{"g":"FOF","fr":4.7,"r2":0.285},{"g":"FOF","fr":11.9,"r2":0.257},{"g":"FOF","fr":23.7,"r2":0.259},{"g":"FOF","fr":17.6,"r2":0.27},
  {"g":"FOF","fr":2.0,"r2":0.25},{"g":"FOF","fr":3.9,"r2":0.21},{"g":"FOF","fr":13.4,"r2":0.224},{"g":"FOF","fr":5.3,"r2":0.235},
  {"g":"FOF","fr":0.9,"r2":0.19},{"g":"FOF","fr":11.4,"r2":0.172},{"g":"FOF","fr":18.5,"r2":0.179},
  {"g":"FOF","fr":1.3,"r2":0.135},{"g":"FOF","fr":1.5,"r2":0.12},{"g":"FOF","fr":1.8,"r2":0.14},{"g":"FOF","fr":6.4,"r2":0.105},{"g":"FOF","fr":11.8,"r2":0.152},{"g":"FOF","fr":12.2,"r2":0.135},{"g":"FOF","fr":5.8,"r2":0.125},{"g":"FOF","fr":2.4,"r2":0.145},
  {"g":"FOF","fr":5.0,"r2":0.075},
  {"g":"FOF","fr":1.6,"r2":-0.011},{"g":"FOF","fr":1.6,"r2":-0.044},{"g":"FOF","fr":14.4,"r2":-0.004},{"g":"FOF","fr":13.9,"r2":-0.037},{"g":"FOF","fr":11.5,"r2":-0.032},{"g":"FOF","fr":3.5,"r2":-0.077},{"g":"FOF","fr":12.2,"r2":-0.071},{"g":"FOF","fr":16.8,"r2":-0.094}
 ]
},
"hconcat":[
 {
  "bounds":"flush","spacing":0,
  "resolve":{"scale":{"color":"independent"},"legend":{"color":"independent"}},
  "vconcat":[
   {"width":188,"height":66,"data":{"values":[{"a":1}]},"mark":{"type":"point","opacity":0},
    "title":{"text":"(B)","anchor":"start","dx":-162,"dy":60,"offset":0,"baseline":"alphabetic","fontSize":26}},
   {"bounds":"flush","spacing":62,
    "resolve":{"scale":{"color":"independent"},"legend":{"color":"independent"}},
    "hconcat":[
     {"width":188,"height":149,
      "title":{"text":"ADS\u2002→\u2002FOF","fontSize":18,"offset":12},
      "layer":[
       {"data":{"name":"linesAF"},"mark":{"type":"line","strokeWidth":2,"opacity":0.6},
        "encoding":{
         "x":{"field":"k","type":"quantitative","scale":{"domain":[0.8,5.2],"nice":false,"zero":false},"axis":{"values":[1,2,3,4,5],"labels":false,"title":null,"tickSize":5,"tickWidth":1.5,"domainWidth":1.5}},
         "y":{"field":"v","type":"quantitative","scale":{"domain":[-0.05,1.05],"nice":false,"zero":false},"axis":{"values":[0,0.5,1],"format":".1f","labelFontSize":17,"tickSize":5,"tickWidth":1.5,"domainWidth":1.5,"labelPadding":8,"title":["Norm. C.V. logll","per spike ± SEM"],"titleFontSize":18,"titlePadding":14}},
         "color":{"field":"s","type":"nominal","scale":{"domain":["s1","s2","s3","s4","s5","s6","s7","s8","s9","s10","s11"],"range":["#9e0142","#d53e4f","#f46d43","#fdae61","#fee08b","#e6f598","#ffffbf","#abdda4","#66c2a5","#3288bd","#5e4fa2"]},"legend":null}}},
       {"data":{"name":"linesAF"},"mark":{"type":"circle","size":22,"opacity":0.6},
        "encoding":{"x":{"field":"k","type":"quantitative"},"y":{"field":"v","type":"quantitative"},"color":{"field":"s","type":"nominal","legend":null}}},
       {"data":{"name":"meanAF"},"mark":{"type":"rule","color":"#000","strokeWidth":2},
        "encoding":{"x":{"field":"k","type":"quantitative"},"y":{"field":"lo","type":"quantitative"},"y2":{"field":"hi"}}},
       {"data":{"name":"meanAF"},"mark":{"type":"line","color":"#000","strokeWidth":2.5,"point":{"filled":true,"size":60,"color":"#000"}},
        "encoding":{"x":{"field":"k","type":"quantitative"},"y":{"field":"m","type":"quantitative"}}}
      ]},
     {"width":188,"height":149,
      "title":{"text":"FOF\u2002→\u2002ADS","fontSize":18,"offset":12},
      "layer":[
       {"data":{"name":"linesFA"},"mark":{"type":"line","strokeWidth":2,"opacity":0.6},
        "encoding":{
         "x":{"field":"k","type":"quantitative","scale":{"domain":[0.8,5.2],"nice":false,"zero":false},"axis":{"values":[1,2,3,4,5],"labels":false,"title":null,"tickSize":5,"tickWidth":1.5,"domainWidth":1.5}},
         "y":{"field":"v","type":"quantitative","scale":{"domain":[-0.05,1.05],"nice":false,"zero":false},"axis":{"values":[0,0.5,1],"format":".1f","labelFontSize":17,"tickSize":5,"tickWidth":1.5,"domainWidth":1.5,"labelPadding":8,"title":null}},
         "color":{"field":"s","type":"nominal","scale":{"domain":["s1","s2","s3","s4","s5","s6","s7","s8","s9","s10","s11"],"range":["#9e0142","#d53e4f","#f46d43","#fdae61","#fee08b","#e6f598","#ffffbf","#abdda4","#66c2a5","#3288bd","#5e4fa2"]},"legend":null}}},
       {"data":{"name":"linesFA"},"mark":{"type":"circle","size":22,"opacity":0.6},
        "encoding":{"x":{"field":"k","type":"quantitative"},"y":{"field":"v","type":"quantitative"},"color":{"field":"s","type":"nominal","legend":null}}},
       {"data":{"name":"meanFA"},"mark":{"type":"rule","color":"#000","strokeWidth":2},
        "encoding":{"x":{"field":"k","type":"quantitative"},"y":{"field":"lo","type":"quantitative"},"y2":{"field":"hi"}}},
       {"data":{"name":"meanFA"},"mark":{"type":"line","color":"#000","strokeWidth":2.5,"point":{"filled":true,"size":60,"color":"#000"}},
        "encoding":{"x":{"field":"k","type":"quantitative"},"y":{"field":"m","type":"quantitative"}}}
      ]}
    ]},
   {"width":188,"height":179,"data":{"values":[{"a":1}]},"mark":{"type":"point","opacity":0}},
   {"bounds":"flush","spacing":62,
    "hconcat":[
     {"width":188,"height":148,"data":{"name":"countAF"},
      "mark":{"type":"bar","fill":"#808080","stroke":"#000","strokeWidth":1},
      "encoding":{
       "x":{"field":"lo","type":"quantitative","scale":{"domain":[0.8,5.2],"nice":false,"zero":false},"axis":{"values":[1,2,3,4,5],"labelFontSize":17,"labelPadding":7,"tickSize":5,"tickWidth":1.5,"domainWidth":1.5,"title":"Number of CS latent factors","titleFontSize":19,"titleX":200,"titlePadding":5}},
       "x2":{"field":"hi"},
       "y":{"field":"n","type":"quantitative","scale":{"domain":[0,6.3],"nice":false},"axis":{"values":[0,2,4,6],"labelFontSize":17,"labelPadding":7,"tickSize":5,"tickWidth":1.5,"domainWidth":1.5,"title":"Number of sessions","titleFontSize":18,"titlePadding":77}},
       "y2":{"datum":0}}},
     {"width":188,"height":148,"data":{"name":"countFA"},
      "mark":{"type":"bar","fill":"#808080","stroke":"#000","strokeWidth":1},
      "encoding":{
       "x":{"field":"lo","type":"quantitative","scale":{"domain":[0.8,5.2],"nice":false,"zero":false},"axis":{"values":[1,2,3,4,5],"labelFontSize":17,"labelPadding":7,"tickSize":5,"tickWidth":1.5,"domainWidth":1.5,"title":null}},
       "x2":{"field":"hi"},
       "y":{"field":"n","type":"quantitative","scale":{"domain":[0,10.5],"nice":false},"axis":{"values":[0,5,10],"labelFontSize":17,"labelPadding":7,"tickSize":5,"tickWidth":1.5,"domainWidth":1.5,"title":null}},
       "y2":{"datum":0}}}
    ]}
  ]
 },
 {
  "bounds":"flush","spacing":27,
  "resolve":{"scale":{"color":"independent"},"legend":{"color":"independent"}},
  "vconcat":[
   {"width":288,"height":103,
    "title":{"text":"(C)","anchor":"start","dx":-112,"dy":60,"offset":0,"baseline":"alphabetic","fontSize":26},
    "data":{"name":"topHist"},
    "layer":[
     {"transform":[{"filter":"datum.g === 'FOF'"}],
      "mark":{"type":"bar","fill":"#09A3CC","fillOpacity":0.5,"stroke":"#000","strokeWidth":1,"strokeOpacity":0.75,"clip":true},
      "encoding":{
       "x":{"field":"lo","type":"quantitative","scale":{"domain":[-2.3,61.7],"nice":false,"zero":false},"axis":{"values":[0,10,20,30,40,50,60],"labels":false,"title":null,"tickSize":4,"domainColor":"#555","tickColor":"#333"}},
       "x2":{"field":"hi"},
       "y":{"field":"n","type":"quantitative","scale":{"domain":[0,88],"nice":false},"axis":null},
       "y2":{"datum":0}}},
     {"transform":[{"filter":"datum.g === 'ADS'"}],
      "mark":{"type":"bar","fill":"#E8718E","fillOpacity":0.5,"stroke":"#000","strokeWidth":1,"strokeOpacity":0.75,"clip":true},
      "encoding":{
       "x":{"field":"lo","type":"quantitative"},
       "x2":{"field":"hi"},
       "y":{"field":"n","type":"quantitative"},
       "y2":{"datum":0}}}
    ]},
   {"bounds":"flush","spacing":25,
    "resolve":{"scale":{"color":"independent"},"legend":{"color":"independent"}},
    "hconcat":[
     {"width":288,"height":289,
      "layer":[
       {"data":{"values":[{"z":0}]},"mark":{"type":"rule","color":"#999","strokeDash":[5,4],"strokeWidth":1.2},
        "encoding":{"y":{"field":"z","type":"quantitative","scale":{"domain":[-0.1,1.05],"nice":false,"zero":false}}}},
       {"data":{"name":"scatter"},"mark":{"type":"circle","size":30,"opacity":0.58,"stroke":"#fff","strokeWidth":0.6,"clip":true},
        "encoding":{
         "x":{"field":"fr","type":"quantitative","scale":{"domain":[-2.3,61.7],"nice":false,"zero":false},"axis":{"values":[0,10,20,30,40,50,60],"title":"Firing Rate (spk/s)","titleFontSize":13,"labelFontSize":9,"labelColor":"#222","tickSize":4,"titlePadding":4}},
         "y":{"field":"r2","type":"quantitative","axis":{"values":[0,0.2,0.4,0.6,0.8,1.0],"format":".1f","title":"Cross validated R2","titleFontSize":13,"labelFontSize":9,"labelColor":"#222","tickSize":4,"titlePadding":8}},
         "color":{"field":"g","type":"nominal","scale":{"domain":["ADS","FOF"],"range":["#E8718E","#09A3CC"]},
          "legend":{"title":"R\u0332e\u0332g\u0332i\u0332o\u0332n\u0332","orient":"top-right","offset":0,"padding":7,"fillColor":"#fff","strokeColor":"#ddd","cornerRadius":3,"titleFontSize":12,"titleFontWeight":"normal","labelFontSize":13,"symbolType":"circle","symbolSize":55,"symbolOpacity":1,"symbolStrokeWidth":0,"rowPadding":1,"titleAnchor":"middle","titlePadding":3,"labelColor":"#000","titleColor":"#000"}}}}
      ]},
     {"width":135,"height":289,
      "data":{"name":"rightHist"},
      "layer":[
       {"transform":[{"filter":"datum.g === 'FOF'"}],
        "mark":{"type":"bar","fill":"#09A3CC","fillOpacity":0.5,"stroke":"#000","strokeWidth":1,"strokeOpacity":0.75},
        "encoding":{
         "y":{"field":"lo","type":"quantitative","scale":{"domain":[-0.1,1.05],"nice":false,"zero":false},"axis":{"values":[0,0.2,0.4,0.6,0.8,1.0],"labels":false,"title":null,"tickSize":5,"domainColor":"#555","tickColor":"#333"}},
         "y2":{"field":"hi"},
         "x":{"field":"n","type":"quantitative","scale":{"domain":[0,58.7],"nice":false},"axis":null},
         "x2":{"datum":0}}},
       {"transform":[{"filter":"datum.g === 'ADS'"}],
        "mark":{"type":"bar","fill":"#E8718E","fillOpacity":0.5,"stroke":"#000","strokeWidth":1,"strokeOpacity":0.75},
        "encoding":{
         "y":{"field":"lo","type":"quantitative"},
         "y2":{"field":"hi"},
         "x":{"field":"n","type":"quantitative"},
         "x2":{"datum":0}}}
      ]}
    ]}
  ]
 }
]
}
